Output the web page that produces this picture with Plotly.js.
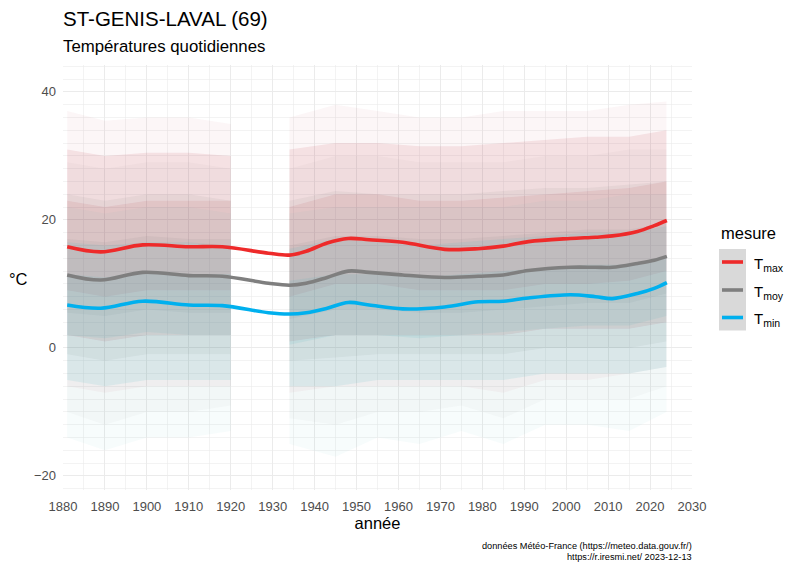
<!DOCTYPE html>
<html>
<head>
<meta charset="utf-8">
<script src="https://cdn.plot.ly/plotly-3.0.1.min.js"></script>
<style>html,body{margin:0;padding:0;background:#fff;}#chart{width:799px;height:571px;}</style>
</head>
<body>
<div id="chart"></div>
<script>
// ---- smoothed series ----
const lineYears = [1881, 1889, 1899, 1910, 1918, 1929, 1934, 1938, 1943, 1948, 1953, 1961, 1971, 1979, 1985, 1991, 2001, 2007, 2011, 2017, 2021, 2024];
const tmaxLine = [15.8, 15.0, 16.1, 15.8, 15.8, 14.8, 14.5, 15.1, 16.4, 17.1, 16.9, 16.5, 15.4, 15.5, 15.9, 16.6, 17.1, 17.3, 17.5, 18.2, 19.1, 19.9];
const tmoyLine = [11.4, 10.6, 11.8, 11.3, 11.2, 10.1, 9.8, 10.1, 11.0, 12.0, 11.8, 11.4, 11.0, 11.2, 11.4, 12.1, 12.6, 12.6, 12.6, 13.2, 13.7, 14.3];
const tminLine = [6.7, 6.2, 7.3, 6.7, 6.6, 5.5, 5.3, 5.5, 6.2, 7.1, 6.7, 6.1, 6.4, 7.2, 7.3, 7.8, 8.3, 8.0, 7.7, 8.5, 9.3, 10.2];

// ---- daily-point cloud envelopes; null = no data 1920-1934 ----
const cloudYears = [1881, 1890, 1900, 1910, 1920, null, 1934, 1945, 1955, 1965, 1975, 1985, 1995, 2005, 2015, 2023.9];
const tmaxExtHi = [37, 35.5, 36, 36, 35, null, 36, 38, 37, 36, 36, 37, 37, 37, 38, 38.5];
const tmaxQ97   = [31, 30, 30.5, 30.5, 30, null, 31, 32, 32, 31.5, 31.5, 32, 32.5, 33, 33, 34];
const tmaxQ75   = [23, 22, 23, 23, 23, null, 22, 24, 24, 23, 23, 23.5, 24, 24.5, 25, 26];
const tmaxQ25   = [9, 8, 9, 9, 9, null, 8, 10, 10, 9, 9, 9, 10, 10, 10.5, 12];
const tmaxQ03   = [2, 1, 2, 2, 2, null, 1, 2, 2, 2, 2, 2, 3, 3, 3, 4];
const tmaxExtLo = [-6, -7, -6, -6, -6, null, -7, -6, -6, -6, -6, -7, -5, -5, -4, -3];

const tmoyExtHi = [29, 28, 29, 29, 28, null, 28, 30, 30, 29, 29, 29, 30, 30, 31, 31];
const tmoyQ97   = [24, 23, 24, 24, 23, null, 23, 24.5, 24, 24, 24, 24.5, 25, 25, 25.5, 26];
const tmoyQ75   = [17, 16.5, 17.5, 17, 17, null, 16, 17.5, 17.5, 17, 17, 17.5, 18, 18.5, 18.5, 19.5];
const tmoyQ25   = [5.5, 5, 6, 5.5, 5.5, null, 4.5, 6, 6, 5.5, 5.5, 6, 6.5, 7, 7, 8.5];
const tmoyQ03   = [-1, -2, -1, -1, -1, null, -2, -1.5, -1, -1, -1, -1, 0, 0, 0, 1];
const tmoyExtLo = [-10, -12, -10, -10, -9, null, -11, -12, -10, -10, -9, -11, -8, -8, -8, -6];

const tminExtHi = [22, 21, 22, 22, 21, null, 21, 22, 22, 22, 22, 22, 23, 23, 24, 24];
const tminQ97   = [16.5, 16, 16.5, 16.5, 16, null, 15.5, 17, 16.5, 16, 16.5, 17, 17.5, 18, 18, 19];
const tminQ75   = [11.5, 11, 12, 11.5, 11.5, null, 10.5, 11.5, 11.5, 11, 11.5, 12, 12.5, 13, 13, 14];
const tminQ25   = [2, 1.5, 2.5, 2, 2, null, 0.5, 2, 2, 1.5, 2, 2.5, 3, 3.5, 3.5, 5];
const tminQ03   = [-5, -6, -5, -5, -5, null, -6, -6, -5, -5, -5, -5, -4, -4, -4, -3];
const tminExtLo = [-14, -16, -14, -14, -13, null, -15, -17, -14, -15, -13, -15, -12, -12, -13, -10];

// ---- labels ----
const titleText = "ST-GENIS-LAVAL (69)";
const subtitleText = "Températures quotidiennes";
const xTickVals = [1880, 1890, 1900, 1910, 1920, 1930, 1940, 1950, 1960, 1970, 1980, 1990, 2000, 2010, 2020, 2030];
const yTickVals = [-20, 0, 20, 40];
const legendLabels = ["T<sub>max</sub>", "T<sub>moy</sub>", "T<sub>min</sub>"];
const caption1 = "données Météo-France (https://meteo.data.gouv.fr/)";
const caption2 = "https://r.iresmi.net/ 2023-12-13";

const colMax = "#ee2a2a", colMoy = "#7f7f7f", colMin = "#00b0ee";

function bands(lo, hi, color) {
  const out = [];
  let seg = [];
  const flush = () => {
    if (seg.length > 1) {
      const xs = seg.map(i => cloudYears[i]);
      const up = seg.map(i => hi[i]);
      const dn = seg.map(i => lo[i]);
      out.push({
        type: "scatter", mode: "lines", line: {width: 0, color: color},
        x: xs.concat(xs.slice().reverse()),
        y: up.concat(dn.slice().reverse()),
        fill: "toself", fillcolor: color, hoverinfo: "skip", showlegend: false
      });
    }
    seg = [];
  };
  cloudYears.forEach((y, i) => { if (y === null) flush(); else seg.push(i); });
  flush();
  return out;
}

const rMax = "rgba(190,55,70,", rMoy = "rgba(90,90,90,", rMin = "rgba(55,178,188,";
let traces = [];
traces = traces.concat(bands(tmaxExtLo, tmaxExtHi, rMax + "0.045)"));
traces = traces.concat(bands(tmaxQ03, tmaxQ97, rMax + "0.11)"));
traces = traces.concat(bands(tmaxQ25, tmaxQ75, rMax + "0.10)"));
traces = traces.concat(bands(tmoyExtLo, tmoyExtHi, rMoy + "0.03)"));
traces = traces.concat(bands(tmoyQ03, tmoyQ97, rMoy + "0.06)"));
traces = traces.concat(bands(tmoyQ25, tmoyQ75, rMoy + "0.06)"));
traces = traces.concat(bands(tminExtLo, tminExtHi, rMin + "0.04)"));
traces = traces.concat(bands(tminQ03, tminQ97, rMin + "0.11)"));
traces = traces.concat(bands(tminQ25, tminQ75, rMin + "0.10)"));

const lineTrace = (y, c, name) => ({
  type: "scatter", mode: "lines", x: lineYears, y: y, name: name,
  line: {color: c, width: 3.6, shape: "spline", smoothing: 1}, showlegend: false
});
traces.push(lineTrace(tmaxLine, colMax, legendLabels[0]));
traces.push(lineTrace(tmoyLine, colMoy, legendLabels[1]));
traces.push(lineTrace(tminLine, colMin, legendLabels[2]));

// pixel -> paper helpers (plot area 63..692 x, 65..490 y)
const L = 63, R = 692, T = 65, B = 490;
const px = v => (v - L) / (R - L);
const py = v => (B - v) / (B - T);

const font = "Liberation Sans, Arial, Helvetica, sans-serif";
const shapes = [
  {type: "rect", xref: "paper", yref: "paper", x0: px(719), x1: px(746), y0: py(330.5), y1: py(249), fillcolor: "#d9d9d9", line: {width: 0}, layer: "above"}
];
const keyY = [262, 290, 317.5], keyCol = [colMax, colMoy, colMin];
const annotations = [
  {xref: "paper", yref: "paper", x: px(61), y: py(46), xanchor: "left", yanchor: "middle", text: subtitleText, showarrow: false, font: {family: font, size: 16.8, color: "#000"}},
  {xref: "paper", yref: "paper", x: px(719), y: py(233), xanchor: "left", yanchor: "middle", text: "mesure", showarrow: false, font: {family: font, size: 16.5, color: "#000"}},
  {xref: "paper", yref: "paper", x: px(694), y: py(546), xanchor: "right", yanchor: "middle", text: caption1, showarrow: false, font: {family: font, size: 9.2, color: "#000"}},
  {xref: "paper", yref: "paper", x: px(694), y: py(557), xanchor: "right", yanchor: "middle", text: caption2, showarrow: false, font: {family: font, size: 9.2, color: "#000"}}
];
keyY.forEach((yy, i) => {
  shapes.push({type: "line", xref: "paper", yref: "paper", x0: px(722), x1: px(743), y0: py(yy), y1: py(yy), line: {color: keyCol[i], width: 3.6}, layer: "above"});
  annotations.push({xref: "paper", yref: "paper", x: px(752), y: py(yy + 2), xanchor: "left", yanchor: "middle", text: legendLabels[i], showarrow: false, font: {family: font, size: 15, color: "#000"}});
});

const layout = {
  width: 799, height: 571,
  margin: {l: L, r: 799 - R, t: T, b: 571 - B, pad: 0},
  paper_bgcolor: "#fff", plot_bgcolor: "#fff",
  showlegend: false,
  font: {family: font, color: "#4d4d4d"},
  title: {text: titleText, xref: "container", yref: "container", x: 63 / 799, xanchor: "left", y: 1 - 19 / 571, yanchor: "middle", font: {family: font, size: 20.5, color: "#000"}},
  xaxis: {
    range: [1880, 2030], tickvals: xTickVals, ticks: "", showline: false, zeroline: false,
    showgrid: true, gridcolor: "#ebebeb", gridwidth: 1.1,
    minor: {tick0: 1880, dtick: 5, showgrid: true, gridcolor: "#ebebeb", gridwidth: 0.6},
    tickfont: {family: font, size: 13, color: "#4d4d4d"}, ticklabelstandoff: 7,
    title: {text: "année", font: {family: font, size: 16.5, color: "#000"}, standoff: 2}
  },
  yaxis: {
    range: [-22.2, 44.2], tickvals: yTickVals, ticks: "", showline: false, zeroline: false,
    showgrid: true, gridcolor: "#ebebeb", gridwidth: 1.1,
    minor: {tick0: 0, dtick: 2, showgrid: true, gridcolor: "#ebebeb", gridwidth: 0.6},
    tickfont: {family: font, size: 13, color: "#4d4d4d"}, ticklabelstandoff: 6
  },
  shapes: shapes,
  annotations: annotations.concat([
    {xref: "paper", yref: "paper", x: px(18), y: py(279), xanchor: "center", yanchor: "middle", text: "°C", showarrow: false, font: {family: font, size: 16.5, color: "#000"}}
  ])
};

Plotly.newPlot("chart", traces, layout, {staticPlot: true, displayModeBar: false});
</script>
</body>
</html>
